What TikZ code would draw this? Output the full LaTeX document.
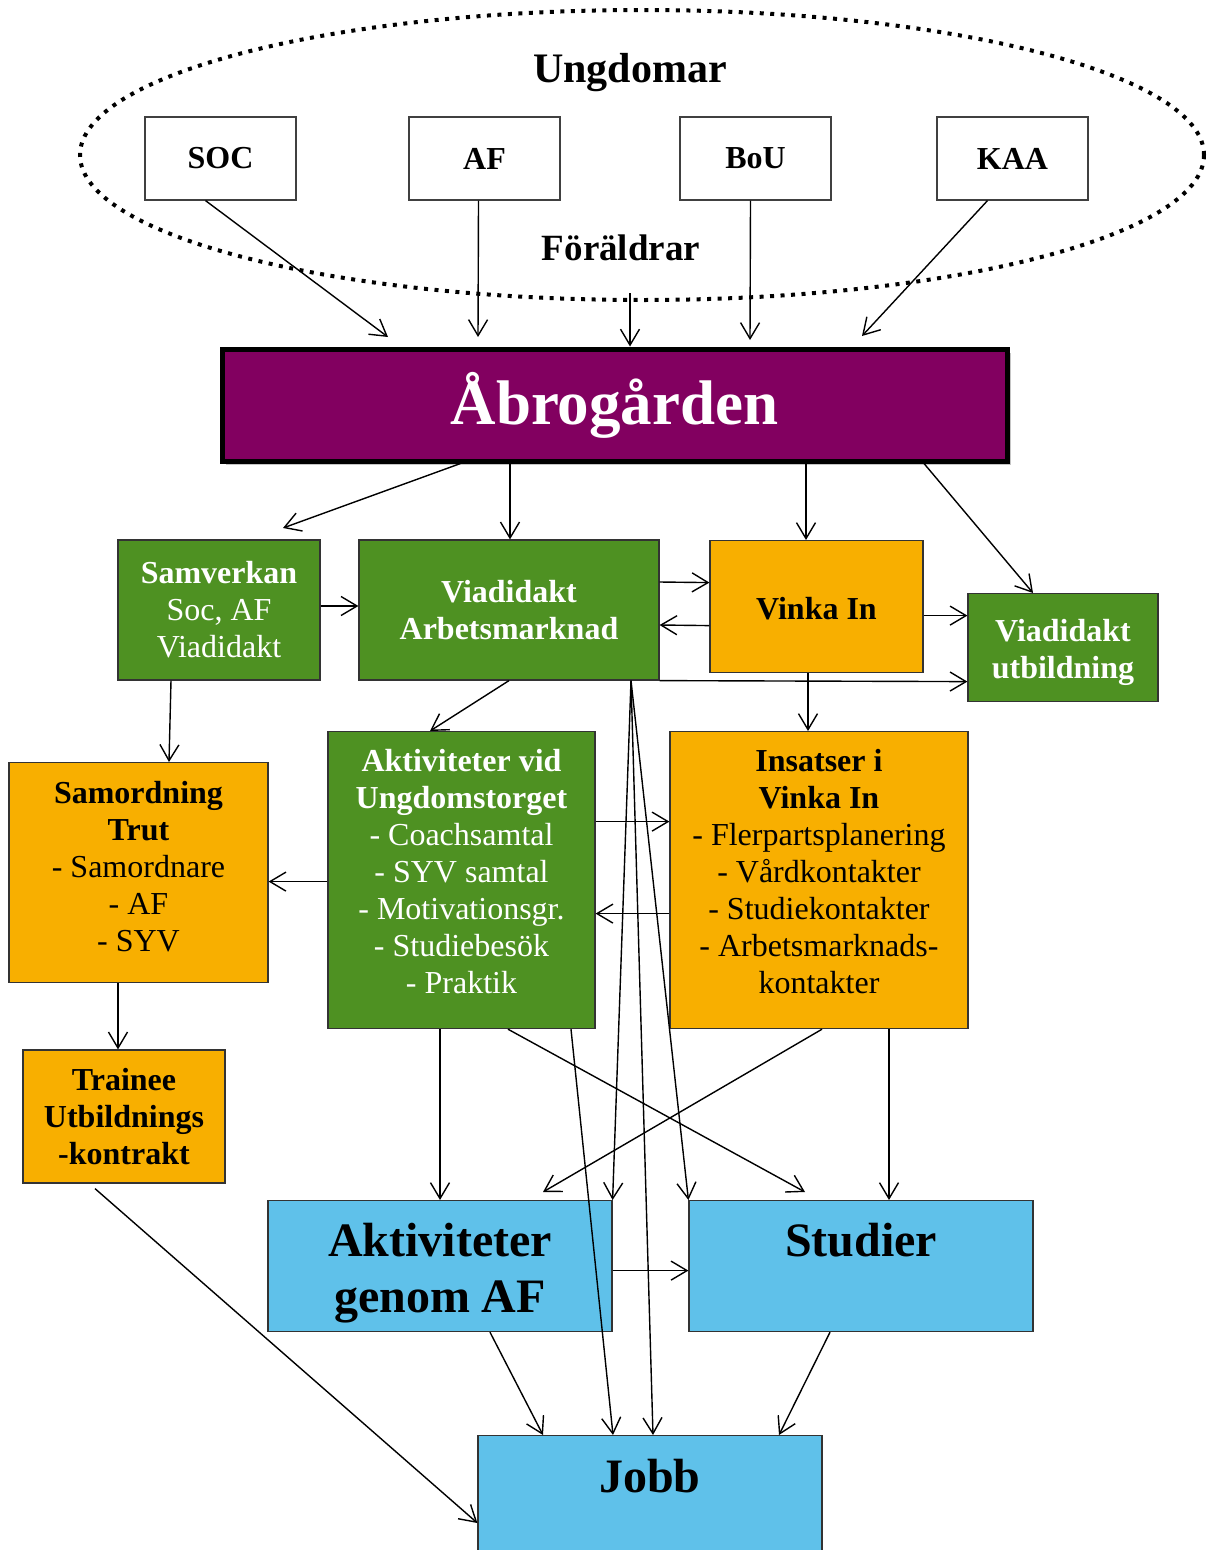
\documentclass[tikz,border=0pt]{standalone}
\usepackage{fontspec}
\setmainfont{Liberation Serif}
\usepackage{xcolor}
\usetikzlibrary{positioning, shapes.geometric, shadows, arrows.meta}

\definecolor{abrolila}{RGB}{130,0,96}
\definecolor{viagron}{RGB}{78,145,34}
\definecolor{vinkagul}{RGB}{248,175,0}
\definecolor{jobbbla}{RGB}{95,193,234}

\begin{document}
\begin{tikzpicture}[x=1pt, y=-1pt, line width=1.4pt,
    >={Straight Barb[length=16pt,width=19pt]},
    orgbox/.style={draw=black!75, line width=1.2pt, fill=white, minimum width=151pt, minimum height=83pt, font=\fontsize{32}{37}\selectfont\bfseries},
    gronbox/.style={draw=black!80, line width=1.2pt, fill=viagron, text=white, align=center, font=\fontsize{32}{37}\selectfont},
    gulbox/.style={draw=black!80, line width=1.2pt, fill=vinkagul, align=center, font=\fontsize{32}{37}\selectfont},
    blabox/.style={draw=black!80, line width=1.2pt, fill=jobbbla, align=center, minimum width=344pt, font=\fontsize{48}{56}\selectfont\bfseries}]
    \useasboundingbox (0,0) rectangle (1208,1550);

    % Define the group on top
    \node[ellipse, draw, line width=4pt, dash pattern=on 4pt off 6.5pt, minimum width=1124pt, minimum height=290pt] (grupp) at (642,155) {};
    \node[font=\fontsize{42}{48}\selectfont\bfseries] (ungd) at (630,73) {Ungdomar};
    \node[font=\fontsize{37}{42}\selectfont\bfseries] (foral) at (621,248) {Föräldrar};
    \node[orgbox] (soc) at (220.5,158.5) {SOC};
    \node[orgbox] (af) at (484.5,158.5) {AF};
    \node[orgbox] (bou) at (755.5,158.5) {BoU};
    \node[orgbox] (kaa) at (1012.5,158.5) {KAA};
    \coordinate (fp) at (630,293);
    \coordinate (c1) at (388,337);
    \coordinate (c2) at (478,337);
    \coordinate (c4) at (750,340);
    \coordinate (c5) at (862,336);

    % Define the boxes
    \node[draw=black, line width=5pt, fill=abrolila, text=white, minimum width=785pt, minimum height=112pt, font=\fontsize{63}{70}\selectfont\bfseries, drop shadow={shadow xshift=4pt, shadow yshift=-4pt, fill=black!45}] (abro) at (614.5,405) {Åbrogården};
    \coordinate (c6) at (283,528);
    \node[gronbox, minimum width=202pt, minimum height=140pt] (samv) at (219,610) {\textbf{Samverkan}\\Soc, AF\\Viadidakt};
    \node[gronbox, minimum width=300pt, minimum height=140pt, font=\fontsize{32}{37}\selectfont\bfseries] (viaarb) at (509,610) {Viadidakt\\Arbetsmarknad};
    \node[gulbox, anchor=north, minimum width=213pt, inner ysep=5pt, text height=74pt, text depth=48pt, font=\fontsize{32}{37}\selectfont\bfseries] (vinka) at (816.5,540) {Vinka In};
    \node[gronbox, anchor=north, minimum width=190pt, inner ysep=5pt, text height=80pt, text depth=18pt, font=\fontsize{32}{37}\selectfont\bfseries] (viautb) at (1063,593) {Viadidakt\\utbildning};
    \node[gulbox, anchor=north, minimum width=259pt, inner ysep=5pt, text height=184pt, text depth=26pt] (samord) at (138.5,762) {\textbf{Samordning}\\\textbf{Trut}\\- Samordnare\\- AF\\- SYV};
    \node[gronbox, anchor=north, minimum width=267pt, inner ysep=5pt, text height=257pt, text depth=30pt] (aktvid) at (461.5,731) {\textbf{Aktiviteter vid}\\\textbf{Ungdomstorget}\\- Coachsamtal\\- SYV samtal\\- Motivationsgr.\\- Studiebesök\\- Praktik};
    \node[gulbox, anchor=north, minimum width=298pt, inner ysep=5pt, text height=257pt, text depth=30pt] (insats) at (819,731) {\textbf{Insatser i}\\\textbf{Vinka In}\\- Flerpartsplanering\\- Vårdkontakter\\- Studiekontakter\\- Arbetsmarknads-\\kontakter};
    \node[gulbox, minimum width=202pt, minimum height=133pt, font=\fontsize{32}{37}\selectfont\bfseries] (trainee) at (124,1116.5) {Trainee\\Utbildnings\\-kontrakt};
    \node[blabox, anchor=north, inner ysep=10pt, text height=102pt, text depth=9pt] (aktaf) at (440,1200) {Aktiviteter\\genom AF};
    \node[blabox, anchor=north, inner ysep=23pt, text height=33pt, text depth=52pt] (studier) at (861,1200) {Studier};
    \node[blabox, anchor=north, inner ysep=23pt, text height=34pt, text depth=140pt] (jobb) at (650,1435) {Jobb};

    % Define the arrows
    \draw[->] ([xshift=-15pt]soc.south) -- (c1);
    \draw[->] ([xshift=-6pt]af.south) -- (c2);
    \draw[->] (fp) -- ([xshift=15.5pt]abro.north);
    \draw[->] ([xshift=-5pt]bou.south) -- (c4);
    \draw[->] ([xshift=-25pt]kaa.south) -- (c5);
    \draw[->] ([xshift=-154pt]abro.south) -- (c6);
    \draw[->] ([xshift=-104.5pt]abro.south) -- ([xshift=1pt]viaarb.north);
    \draw[->] ([xshift=191.5pt]abro.south) -- ([xshift=-10.5pt]vinka.north);
    \draw[->] ([xshift=309.5pt]abro.south) -- ([xshift=-30pt]viautb.north);
    \draw[->] ([yshift=4pt]samv.east) -- ([yshift=4pt]viaarb.west);
    \draw[->] ([yshift=28pt]viaarb.east) -- ([yshift=24pt]vinka.west);
    \draw[->] ([yshift=-19pt]vinka.west) -- ([yshift=-15pt]viaarb.east);
    \draw[->] ([yshift=-9pt]vinka.east) -- ([yshift=32pt]viautb.west);
    \draw[->] (viaarb.south east) -- ([yshift=-34pt]viautb.west);
    \draw[->] ([xshift=-48pt]samv.south) -- ([xshift=30.5pt]samord.north);
    \draw[->] (viaarb.south) -- ([xshift=-31.5pt]aktvid.north);
    \draw[->] ([xshift=-8.5pt]vinka.south) -- ([xshift=-11pt]insats.north);
    \draw[->] ([yshift=58.5pt]aktvid.east) -- ([yshift=58.5pt]insats.west);
    \draw[->] ([yshift=-33.5pt]insats.west) -- ([yshift=-33.5pt]aktvid.east);
    \draw[->] ([yshift=-1.5pt]aktvid.west) -- ([yshift=-9pt]samord.east);
    \draw[->] ([xshift=-20.5pt]samord.south) -- ([xshift=-6pt]trainee.north);
    \draw[->] ([xshift=122pt]viaarb.south) -- (aktaf.north east);
    \draw[->] ([xshift=122pt]viaarb.south) -- ([xshift=3pt]jobb.north);
    \draw[->] ([xshift=122pt]viaarb.south) -- (studier.north west);
    \draw[->] ([xshift=-21.5pt]aktvid.south) -- (aktaf.north);
    \draw[->] ([xshift=46.5pt]aktvid.south) -- ([xshift=-56pt, yshift=8pt]studier.north);
    \draw[->] ([xshift=109.5pt]aktvid.south) -- ([xshift=-37pt]jobb.north);
    \draw[->] ([xshift=3pt]insats.south) -- ([xshift=103pt, yshift=8pt]aktaf.north);
    \draw[->] ([xshift=70pt]insats.south) -- ([xshift=28pt]studier.north);
    \draw[->] ([yshift=-4.5pt]aktaf.east) -- ([yshift=-4.5pt]studier.west);
    \draw[->] ([xshift=50pt]aktaf.south) -- ([xshift=-107pt]jobb.north);
    \draw[->] ([xshift=-31pt]studier.south) -- ([xshift=129pt]jobb.north);
    \draw[->] ([xshift=-29pt, yshift=-5pt]trainee.south) -- ([yshift=-88pt]jobb.north west);

\end{tikzpicture}
\end{document}
